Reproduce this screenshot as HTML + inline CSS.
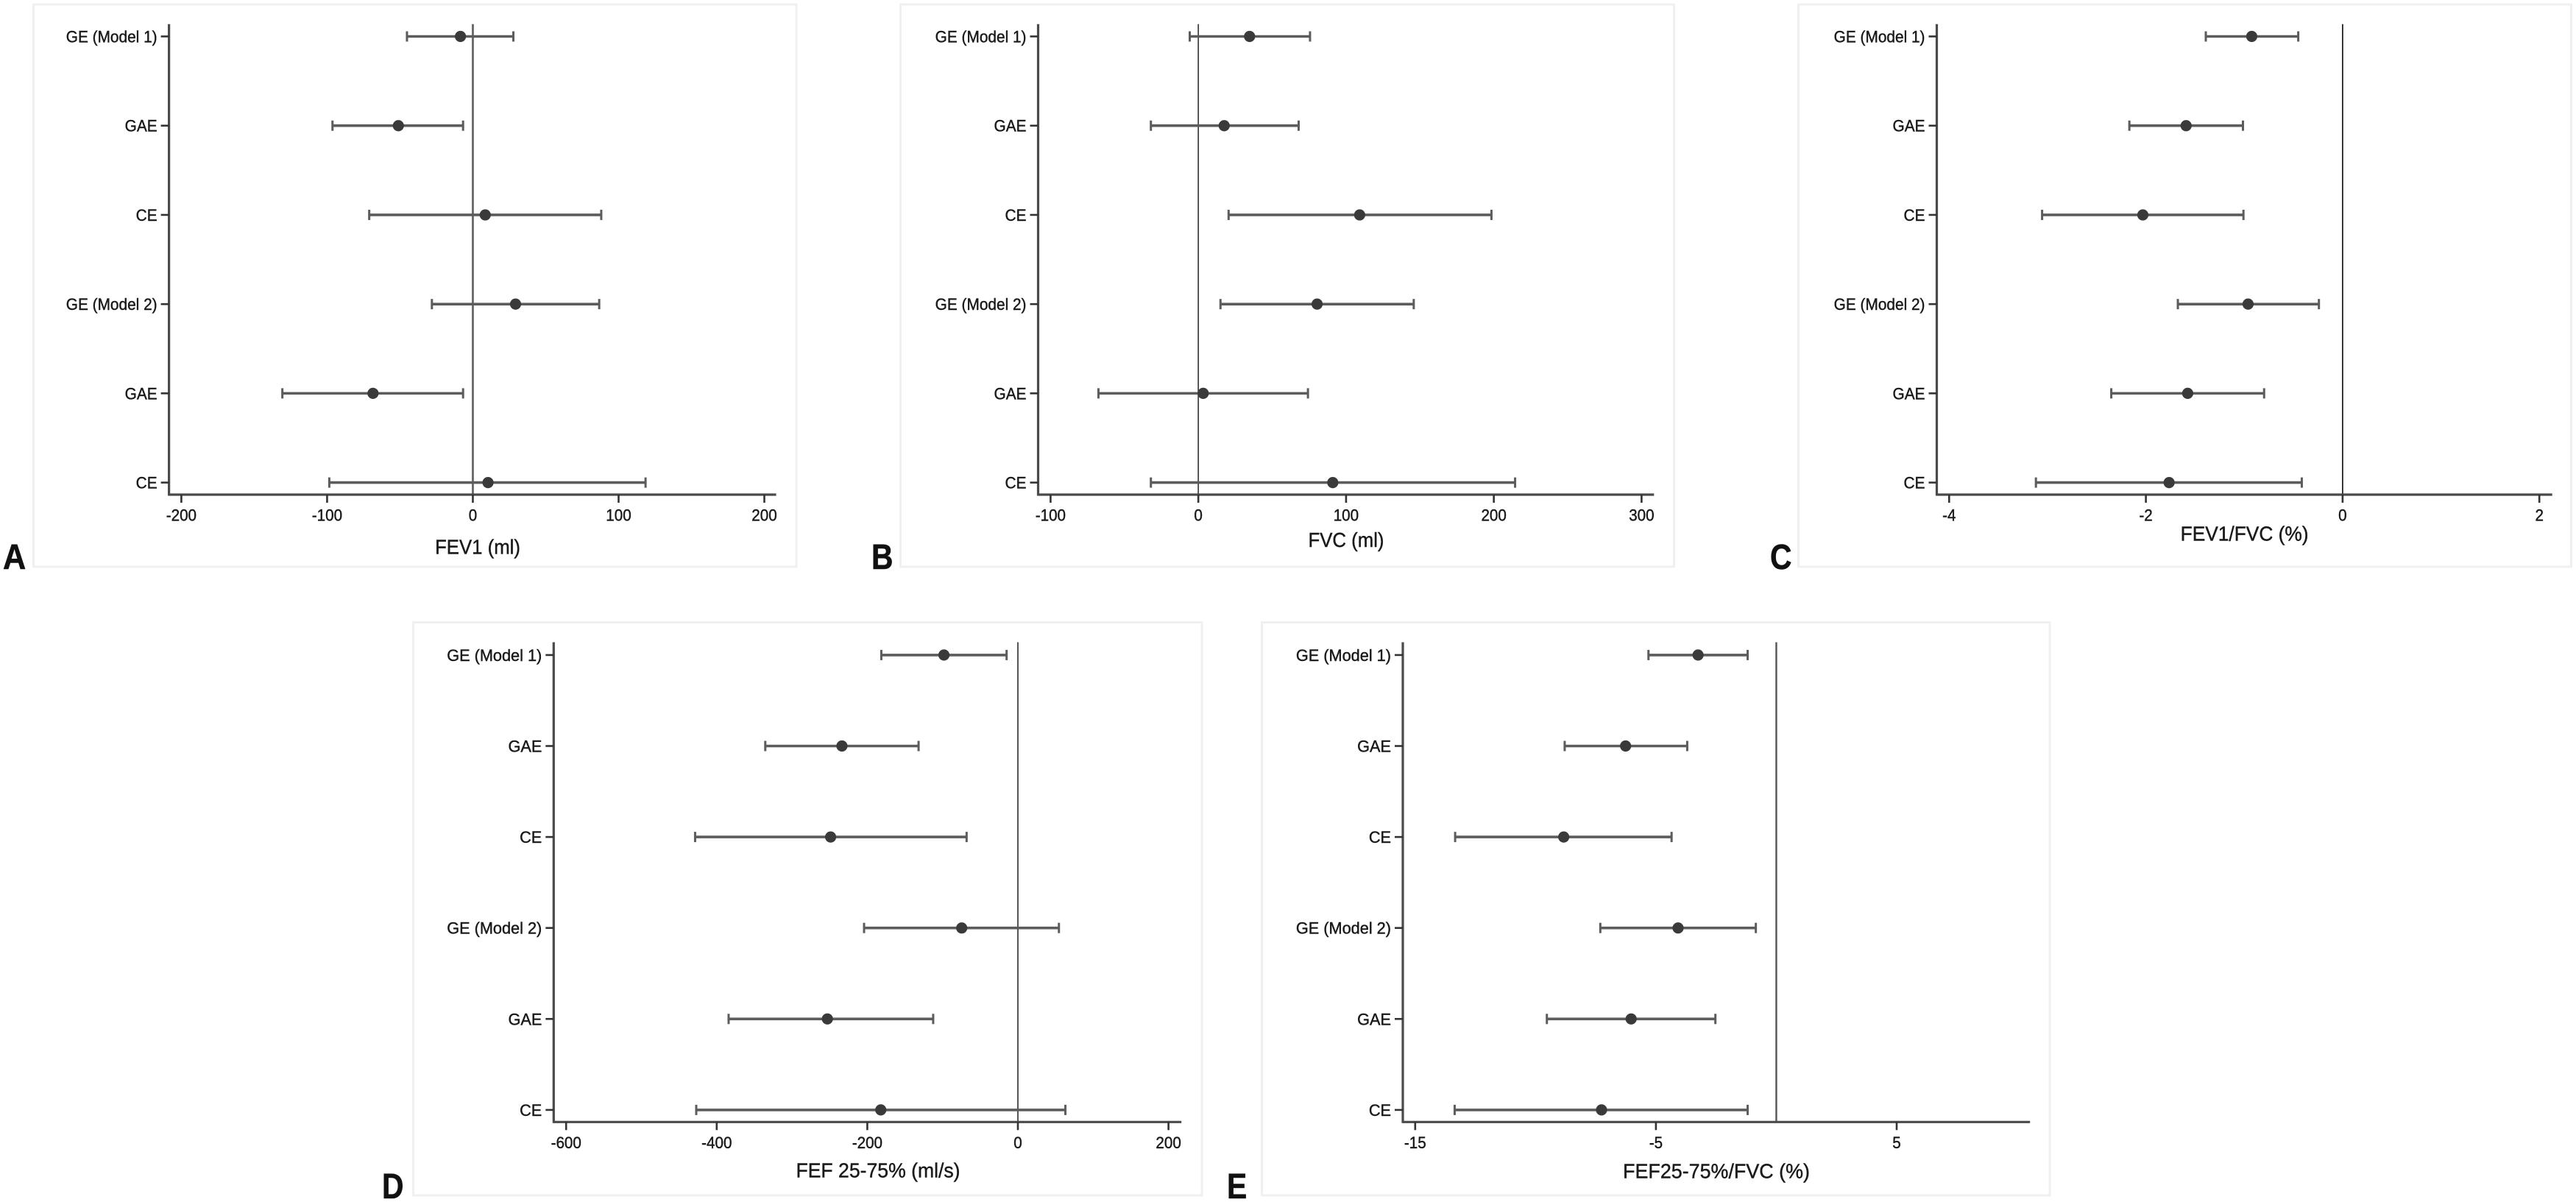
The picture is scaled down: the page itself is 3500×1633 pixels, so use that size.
<!DOCTYPE html>
<html lang="en">
<head>
<meta charset="utf-8">
<title>Forest plots of lung function outcomes</title>
<style>
html,body{margin:0;padding:0;background:#fff;}
#figure{display:block;width:3500px;height:1633px;}
text{font-family:"Liberation Sans",Arial,sans-serif;fill:#1a1a1a;stroke:#1a1a1a;stroke-width:0.45;}
.panel-box{fill:#fff;stroke:#f0f0f0;stroke-width:3;}
.panel-letter{font-size:48px;font-weight:bold;fill:#111;stroke:#111;stroke-width:0.6;}
.axis-title{font-size:28px;text-anchor:middle;}
.tick-label{font-size:22.4px;}
</style>
</head>
<body>
<svg id="figure" xmlns="http://www.w3.org/2000/svg" width="3500" height="1633" viewBox="0 0 3500 1633">
  <rect x="0" y="0" width="3500" height="1633" fill="#fff"/>

  <g id="panel-a">
    <rect class="panel-box" x="45.5" y="6" width="1036.5" height="764"/>
    <text class="panel-letter" transform="translate(4,773) scale(0.9,1)">A</text>
    <text class="axis-title" transform="translate(649,752.5) scale(0.92,1)">FEV1 (ml)</text>
  </g>
  <g id="panel-b">
    <rect class="panel-box" x="1223.5" y="6" width="1051" height="764"/>
    <text class="panel-letter" transform="translate(1184,773) scale(0.85,1)">B</text>
    <text class="axis-title" transform="translate(1829,743) scale(0.92,1)">FVC (ml)</text>
  </g>
  <g id="panel-c">
    <rect class="panel-box" x="2443.5" y="6" width="1050" height="764"/>
    <text class="panel-letter" transform="translate(2405,773) scale(0.85,1)">C</text>
    <text class="axis-title" transform="translate(3049.6,734.7) scale(0.94,1)">FEV1/FVC (%)</text>
  </g>
  <g id="panel-d">
    <rect class="panel-box" x="561.5" y="845.5" width="1071.5" height="778.5"/>
    <text class="panel-letter" transform="translate(519,1628) scale(0.85,1)">D</text>
    <text class="axis-title" transform="translate(1193,1599.6) scale(0.95,1)">FEF 25-75% (ml/s)</text>
  </g>
  <g id="panel-e">
    <rect class="panel-box" x="1714.5" y="845.5" width="1070.5" height="778.5"/>
    <text class="panel-letter" transform="translate(1667,1628) scale(0.85,1)">E</text>
    <text class="axis-title" transform="translate(2332,1600.6) scale(0.96,1)">FEF25-75%/FVC (%)</text>
  </g>
</svg>

<script>
// ---------- categories (top to bottom) ----------
const categories = ['GE (Model 1)', 'GAE', 'CE', 'GE (Model 2)', 'GAE', 'CE'];

// ---------- panel A: FEV1 (ml) ----------
const fev1Ticks = [-200, -100, 0, 100, 200];
const fev1Estimate = [-8.5, -51.1, 8.5, 29.3, -68.5, 10.4];
const fev1Lower = [-45.2, -96.3, -71.1, -28.1, -130.7, -98.5];
const fev1Upper = [27.8, -6.7, 88.1, 86.7, -6.7, 118.5];

// ---------- panel B: FVC (ml) ----------
const fvcTicks = [-100, 0, 100, 200, 300];
const fvcEstimate = [34.7, 17.5, 109.2, 80.4, 3.3, 91];
const fvcLower = [-5.8, -32.1, 20.5, 15, -67.6, -32.1];
const fvcUpper = [75.6, 67.9, 198.4, 145.8, 74.2, 214.4];

// ---------- panel C: FEV1/FVC (%) ----------
const ratioTicks = [-4, -2, 0, 2];
const ratioEstimate = [-0.924, -1.591, -2.031, -0.961, -1.575, -1.764];
const ratioLower = [-1.391, -2.168, -3.055, -1.675, -2.352, -3.118];
const ratioUpper = [-0.451, -1.013, -1.008, -0.241, -0.798, -0.415];

// ---------- panel D: FEF 25-75% (ml/s) ----------
const fefTicks = [-600, -400, -200, 0, 200];
const fefEstimate = [-98.2, -233.7, -248.7, -74.6, -253, -182.1];
const fefLower = [-181.4, -335.5, -428.7, -204.3, -384.2, -427.2];
const fefUpper = [-15, -131.9, -68.1, 54.5, -112.5, 63.1];

// ---------- panel E: FEF25-75%/FVC (%) ----------
const fefFvcTicks = [-15, -5, 5];
const fefFvcEstimate = [-3.25, -6.26, -8.83, -4.08, -6.03, -7.26];
const fefFvcLower = [-5.31, -8.79, -13.34, -7.31, -9.53, -13.36];
const fefFvcUpper = [-1.19, -3.7, -4.35, -0.85, -2.53, -1.19];

const NS = 'http://www.w3.org/2000/svg';
const AXIS_COLOR = '#4a4a4a';
const CI_COLOR = '#5c5c5c';
const DOT_COLOR = '#3a3a3a';

function make(parent, tag, attrs) {
  const el = document.createElementNS(NS, tag);
  for (const k in attrs) el.setAttribute(k, attrs[k]);
  parent.appendChild(el);
  return el;
}

function drawPanel(cfg) {
  const g = document.getElementById(cfg.id);
  const t = cfg.ticks;
  const tMin = t[0];
  const tMax = t[t.length - 1];
  const xScale = v => cfg.tickLeft + (v - tMin) * (cfg.tickRight - cfg.tickLeft) / (tMax - tMin);
  const yScale = i => cfg.rowTop + i * (cfg.rowBottom - cfg.rowTop) / (categories.length - 1);

  // zero reference line
  const zero = make(g, 'line', {x1: xScale(0), x2: xScale(0), y1: cfg.axisTop, y2: cfg.axisY, stroke: cfg.zeroColor, 'stroke-width': cfg.zeroWidth});
  
  

  // axes
  const yAxis = make(g, 'line', {x1: cfg.axisX, x2: cfg.axisX, y1: cfg.axisTop, y2: cfg.axisY + 1.5, stroke: AXIS_COLOR, 'stroke-width': 3.2});
  
  
  const xAxis = make(g, 'line', {x1: cfg.axisX, x2: cfg.axisEnd, y1: cfg.axisY, y2: cfg.axisY, stroke: AXIS_COLOR, 'stroke-width': 3.2});
  
  

  // x ticks and labels
  t.forEach(v => {
    const tick = make(g, 'line', {x1: xScale(v), x2: xScale(v), y1: cfg.axisY, y2: cfg.axisY + 11, stroke: '#333', 'stroke-width': 2.6});
    
    
    const lab = make(g, 'text', {class: 'tick-label', 'text-anchor': 'middle', transform: 'translate(' + xScale(v) + ',' + (cfg.axisY + 35.5) + ') scale(0.92,1)'});
    lab.textContent = String(v);
    
    
  });

  // rows
  categories.forEach((name, i) => {
    const y = yScale(i);
    const tick = make(g, 'line', {x1: cfg.axisX - 11, x2: cfg.axisX, y1: y, y2: y, stroke: '#333', 'stroke-width': 2.6});
    
    
    const lab = make(g, 'text', {class: 'tick-label', 'text-anchor': 'end', transform: 'translate(' + (cfg.axisX - 16) + ',' + (y + 8) + ') scale(' + cfg.labelScale + ',1)'});
    lab.textContent = name;
    
    

    const lo = xScale(cfg.lower[i]);
    const hi = xScale(cfg.upper[i]);
    const ci = make(g, 'line', {x1: lo, x2: hi, y1: y, y2: y, stroke: CI_COLOR, 'stroke-width': 3.6});
    
    
    const capL = make(g, 'line', {x1: lo, x2: lo, y1: y - 7, y2: y + 7, stroke: CI_COLOR, 'stroke-width': 3});
    
    
    const capR = make(g, 'line', {x1: hi, x2: hi, y1: y - 7, y2: y + 7, stroke: CI_COLOR, 'stroke-width': 3});
    
    
    const dot = make(g, 'circle', {cx: xScale(cfg.estimate[i]), cy: y, r: 7.6, fill: DOT_COLOR});
    
    
  });
}

drawPanel({id: 'panel-a', ticks: fev1Ticks, estimate: fev1Estimate, lower: fev1Lower, upper: fev1Upper,
  tickLeft: 246.4, tickRight: 1038.5, axisX: 229.6, axisEnd: 1054.6, axisTop: 32.7, axisY: 672,
  rowTop: 49.5, rowBottom: 655.6, zeroColor: '#666', zeroWidth: 2.8, labelScale: 0.93});
drawPanel({id: 'panel-b', ticks: fvcTicks, estimate: fvcEstimate, lower: fvcLower, upper: fvcUpper,
  tickLeft: 1427.4, tickRight: 2230.4, axisX: 1410.5, axisEnd: 2247.3, axisTop: 32.7, axisY: 672,
  rowTop: 49.5, rowBottom: 655.6, zeroColor: '#444', zeroWidth: 1.8, labelScale: 0.93});
drawPanel({id: 'panel-c', ticks: ratioTicks, estimate: ratioEstimate, lower: ratioLower, upper: ratioUpper,
  tickLeft: 2648.3, tickRight: 3450.2, axisX: 2631.5, axisEnd: 3467.7, axisTop: 32.7, axisY: 672,
  rowTop: 49.5, rowBottom: 655.6, zeroColor: '#222', zeroWidth: 1.8, labelScale: 0.93});
drawPanel({id: 'panel-d', ticks: fefTicks, estimate: fefEstimate, lower: fefLower, upper: fefUpper,
  tickLeft: 769.2, tickRight: 1587.6, axisX: 752.3, axisEnd: 1605.2, axisTop: 872.5, axisY: 1524.3,
  rowTop: 889.9, rowBottom: 1507.9, zeroColor: '#555', zeroWidth: 2, labelScale: 0.97});
drawPanel({id: 'panel-e', ticks: fefFvcTicks, estimate: fefFvcEstimate, lower: fefFvcLower, upper: fefFvcUpper,
  tickLeft: 1922.8, tickRight: 2577, axisX: 1906, axisEnd: 2758.2, axisTop: 872.5, axisY: 1524.3,
  rowTop: 889.9, rowBottom: 1507.9, zeroColor: '#555', zeroWidth: 2.4, labelScale: 0.97});
</script>
</body>
</html>
